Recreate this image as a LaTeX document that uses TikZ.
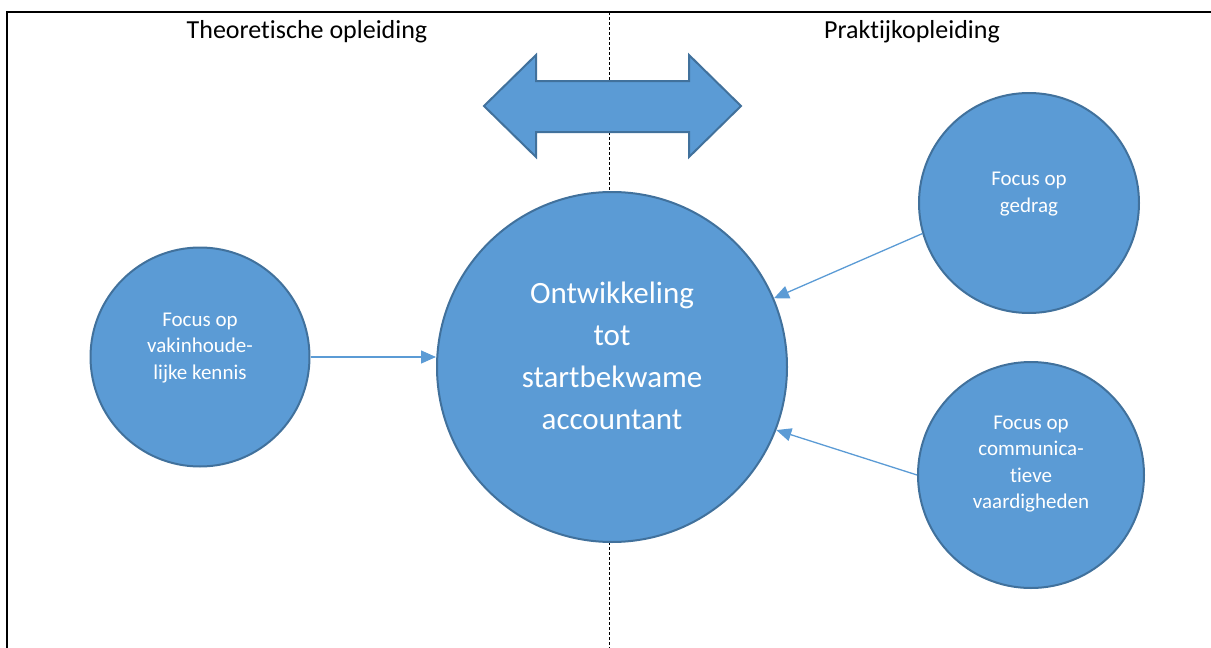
\documentclass[tikz,border=0pt]{standalone}
\usepackage{fontspec}
\setmainfont{Carlito}[Ligatures=NoCommon]
\usetikzlibrary{arrows.meta}
\definecolor{bubblefill}{HTML}{5B9BD5}
\definecolor{bubbleline}{HTML}{41719C}
\tikzset{
  bubble/.style={circle, draw=bubbleline, line width=2pt, fill=bubblefill, inner sep=0pt},
  smalltxt/.style={text=white, align=center, font=\fontsize{21}{26.5}\selectfont},
  bigtxt/.style={text=white, align=center, font=\fontsize{31}{42}\selectfont},
  header/.style={font=\fontsize{26}{30}\selectfont},
  link/.style={draw=bubblefill, line width=1.3pt, -{Triangle[length=15pt,width=13pt]}}
}
\begin{document}
\begin{tikzpicture}[x=1pt,y=-1pt]
  \useasboundingbox (0,0) rectangle (1211,648);
  % frame and dividing line
  \draw[line width=2pt] (7,648) -- (7,12) -- (1211,12);
  \draw[dash pattern=on 3pt off 2pt, line width=1pt] (609.5,12) -- (609.5,648);
  \node[header] (theo) at (307,32) {Theoretische opleiding};
  \node[header] (prak) at (912,32) {Praktijkopleiding};
  % double arrow
  \filldraw[fill=bubblefill, draw=bubbleline, line width=2pt] (484,106) -- (536,55) -- (536,81) -- (689,81) -- (689,55) -- (741,106) -- (689,157) -- (689,132) -- (536,132) -- (536,157) -- cycle;
  % circles
  \node[bubble, minimum size=350pt] (ontw) at (612,367) {};
  \node[bubble, minimum size=219pt] (vak) at (200,357) {};
  \node[bubble, minimum size=220pt] (gedrag) at (1029,203) {};
  \node[bubble, minimum size=226pt] (comm) at (1031,475) {};
  \node[bigtxt] (ontwtxt) at ([yshift=11pt]ontw.center) {Ontwikkeling\\tot\\startbekwame\\accountant};
  \node[smalltxt] (vaktxt) at ([yshift=9pt]vak.center) {Focus op\\vakinhoude-\\lijke kennis};
  \node[smalltxt] (gedragtxt) at ([yshift=9pt]gedrag.center) {Focus op\\gedrag};
  \node[smalltxt] (commtxt) at ([yshift=11pt]comm.center) {Focus op\\communica-\\tieve\\vaardigheden};
  % connectors
  \draw[link] (vak.east) -- (vak.east -| ontw.west);
  \draw[link] (gedrag.196) -- (ontw.23);
  \draw[link] (comm.180) -- (ontw.-21);
\end{tikzpicture}
\end{document}
